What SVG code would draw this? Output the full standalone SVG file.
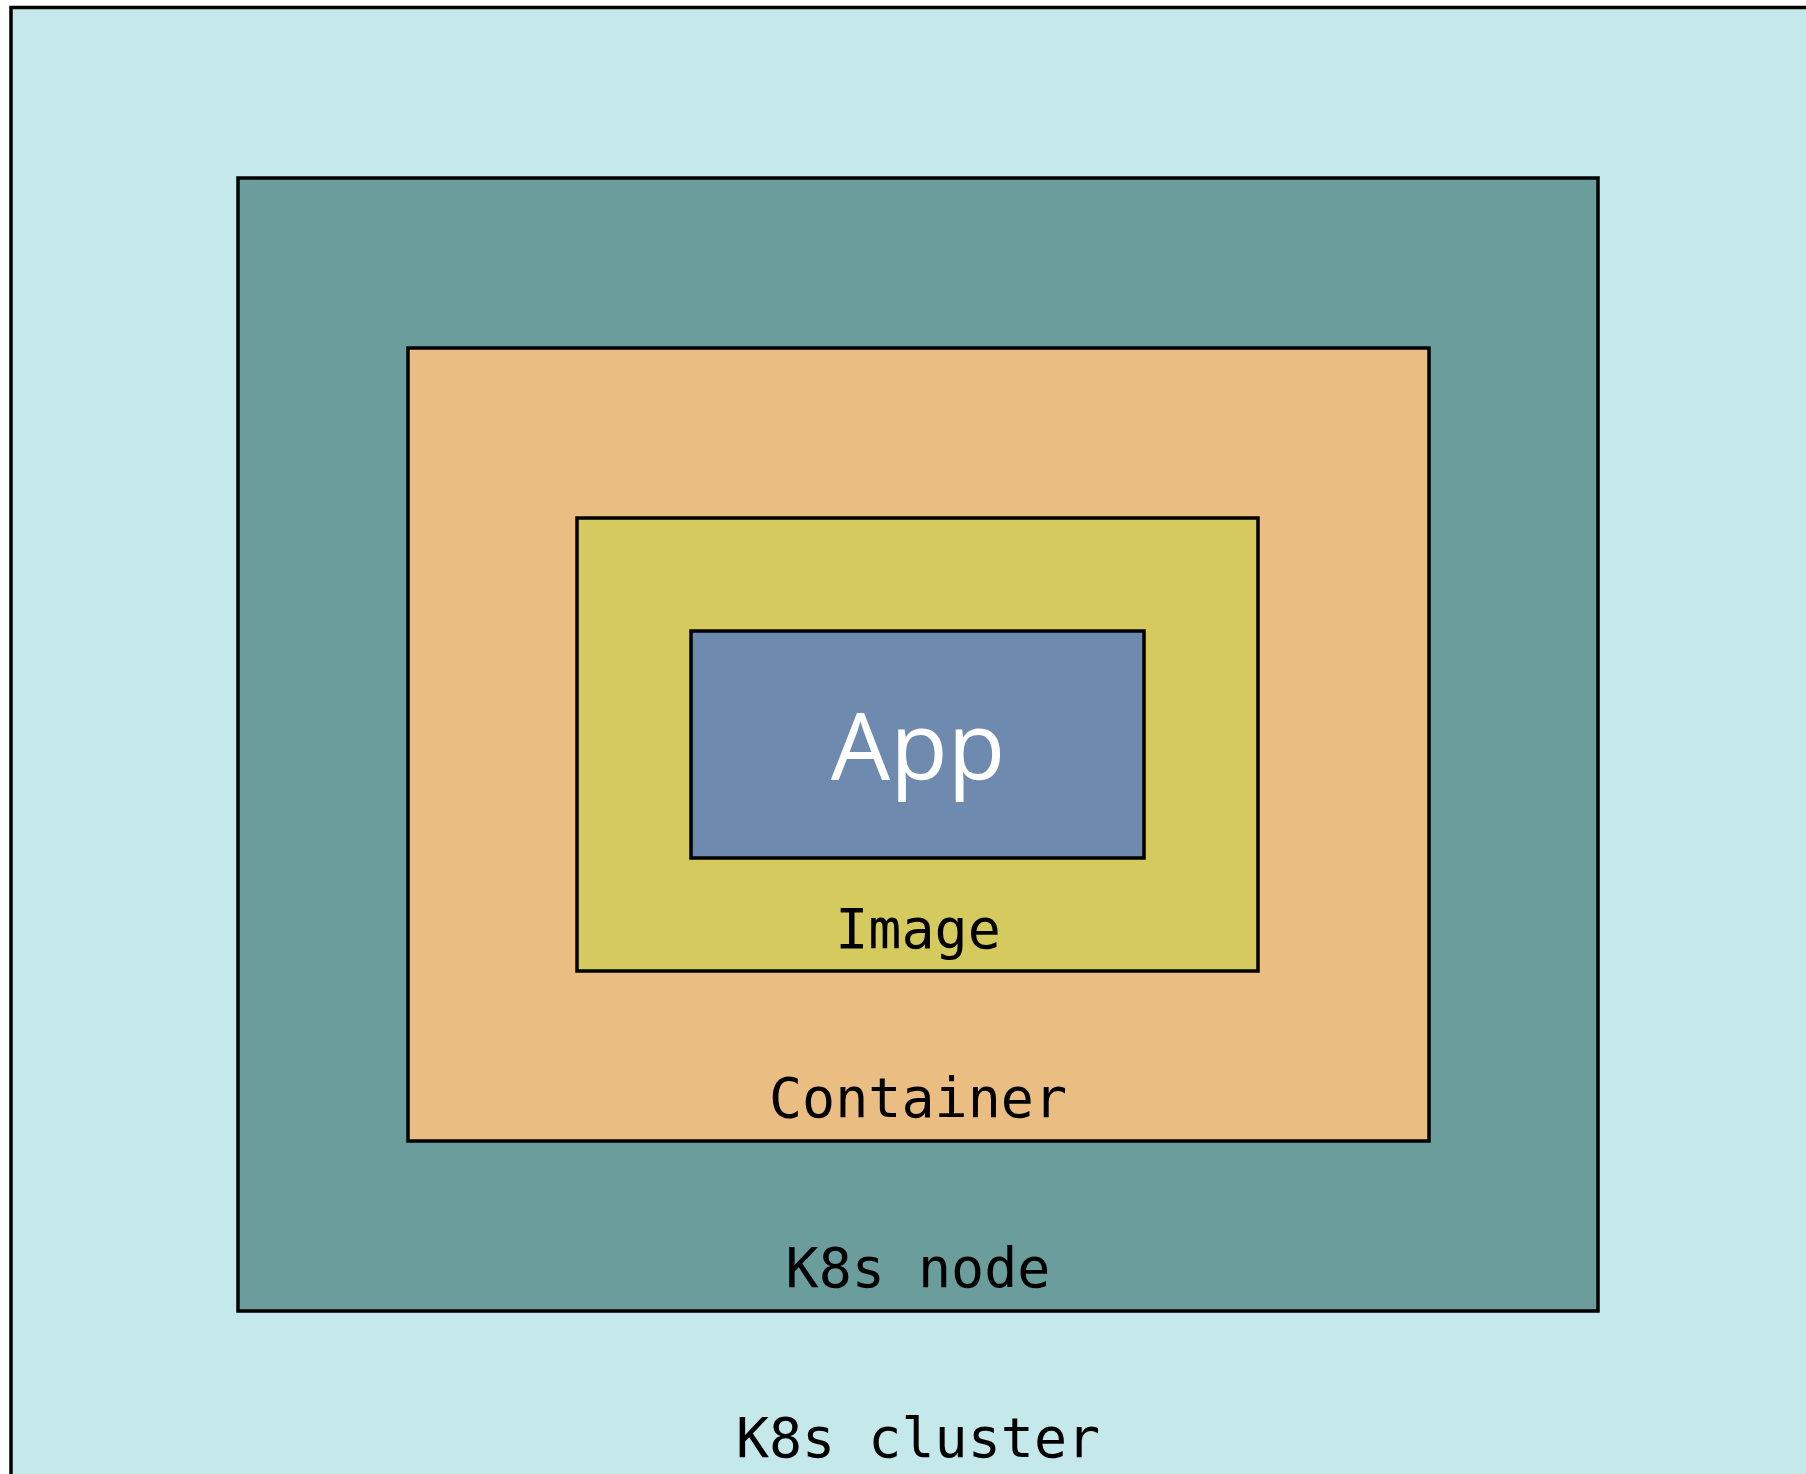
<svg xmlns="http://www.w3.org/2000/svg" width="1806" height="1474" viewBox="0 0 1806 1474">
<style>
.box{stroke:#000;stroke-width:3.5}
.lbl{font-family:"DejaVu Sans Mono","Liberation Mono",monospace;font-size:55px;fill:#000;text-anchor:middle}
.app{font-family:"Open Sans","Noto Sans",sans-serif;font-size:94px;fill:#fff;text-anchor:middle}
</style>
<rect width="1806" height="1474" fill="#ffffff"/>
<g id="cluster">
<rect class="box" x="11" y="7.5" width="1830" height="1500" fill="#c5e8ea"/>
<text class="lbl" x="918" y="1457">K8s cluster</text>
</g>
<g id="node">
<rect class="box" x="238" y="178" width="1360" height="1133" fill="#6b9d9d"/>
<text class="lbl" x="918" y="1287">K8s node</text>
</g>
<g id="container">
<rect class="box" x="408" y="348" width="1021" height="793" fill="#eabd83"/>
<text class="lbl" x="918" y="1117">Container</text>
</g>
<g id="image">
<rect class="box" x="577" y="518" width="681" height="453" fill="#d5ca5e"/>
<text class="lbl" x="918" y="948">Image</text>
</g>
<g id="app">
<rect class="box" x="691" y="631" width="453" height="227" fill="#6f8aaf"/>
<text class="app" x="918" y="780">App</text>
</g>
<g id="connectors"></g>
</svg>
